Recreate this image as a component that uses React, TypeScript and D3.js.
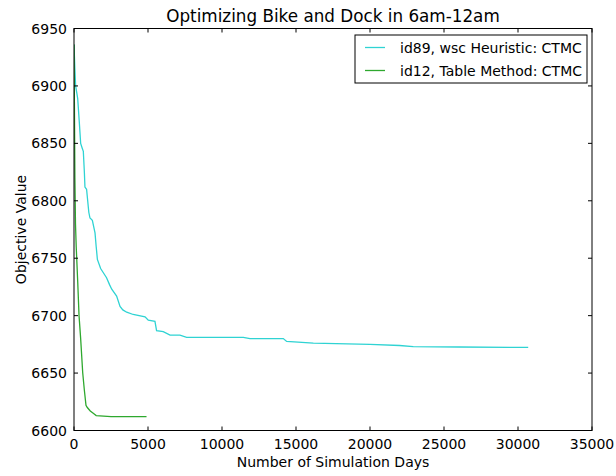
import React from 'react'
import * as d3 from 'd3'

const cyanDays = [0, 60, 110, 200, 250, 350, 450, 550, 630, 700, 740, 850, 925, 1000, 1080, 1240, 1420, 1500, 1580, 1800, 2200, 2400, 2550, 2880, 3110, 3300, 3560, 4000, 4800, 5020, 5470, 5580, 6030, 6490, 7160, 7610, 11440, 11890, 14140, 14370, 16170, 20000, 22000, 22920, 26000, 30690]
const cyanValues = [6936, 6915, 6900, 6893, 6889, 6870, 6850, 6846, 6843, 6825, 6812, 6810, 6800, 6790, 6785, 6783, 6772, 6760, 6749, 6741, 6733, 6727, 6723, 6717, 6708, 6705, 6703, 6701, 6699, 6696, 6695, 6687, 6686, 6683, 6683, 6681, 6681, 6680, 6680, 6677.5, 6676, 6675, 6674, 6673, 6672.7, 6672.3]

const greenDays = [0, 30, 60, 100, 150, 250, 340, 450, 590, 700, 810, 900, 1100, 1300, 1500, 2500, 4900]
const greenValues = [6936, 6880, 6820, 6780, 6760, 6730, 6700, 6680, 6650, 6635, 6622, 6620, 6617, 6615, 6613, 6612, 6612]

const xTicks = [0, 5000, 10000, 15000, 20000, 25000, 30000, 35000]
const yTicks = [6600, 6650, 6700, 6750, 6800, 6850, 6900, 6950]

const seriesNames = ['id89, wsc Heuristic: CTMC', 'id12, Table Method: CTMC']
const seriesColors = ['#2fd3d3', '#2ea82e']

const font = 'DejaVu Sans'

export default function App() {
  const left = 74, right = 592, top = 28.5, bottom = 430.5
  const x = d3.scaleLinear().domain([0, 35000]).range([left, right])
  const y = d3.scaleLinear().domain([6600, 6950]).range([bottom, top])

  const line = d3.line<[number, number]>()
    .x(d => x(d[0]))
    .y(d => y(d[1]))

  const series = [
    cyanDays.map((d, i) => [d, cyanValues[i]] as [number, number]),
    greenDays.map((d, i) => [d, greenValues[i]] as [number, number]),
  ]

  const tick = 4

  return (
    <svg width={616} height={476} style={{ position: 'absolute', left: 0, top: 0, background: '#fff' }}
      fontFamily={font}>
      <rect x={0} y={0} width={616} height={476} fill="#fff" />
      <defs>
        <clipPath id="plot">
          <rect x={left} y={top} width={right - left} height={bottom - top} />
        </clipPath>
      </defs>

      <g clipPath="url(#plot)">
        {series.map((s, i) => (
          <path key={i} d={line(s) ?? ''} fill="none" stroke={seriesColors[i]} strokeWidth={1.3} />
        ))}
      </g>

      {/* ticks, inward on all sides */}
      {xTicks.map(t => (
        <g key={'x' + t}>
          <line x1={x(t)} x2={x(t)} y1={bottom} y2={bottom - tick} stroke="#000" />
          <line x1={x(t)} x2={x(t)} y1={top} y2={top + tick} stroke="#000" />
          <text x={x(t)} y={bottom + 18} textAnchor="middle" fontSize={14} fill="#000">{t}</text>
        </g>
      ))}
      {yTicks.map(t => (
        <g key={'y' + t}>
          <line x1={left} x2={left + tick} y1={y(t)} y2={y(t)} stroke="#000" />
          <line x1={right} x2={right - tick} y1={y(t)} y2={y(t)} stroke="#000" />
          <text x={left - 7} y={y(t) + 5} textAnchor="end" fontSize={14} fill="#000">{t}</text>
        </g>
      ))}

      <rect x={left} y={top} width={right - left} height={bottom - top} fill="none" stroke="#000" strokeWidth={1} />

      <text x={(left + right) / 2} y={22} textAnchor="middle" fontSize={16.8} fill="#000">
        Optimizing Bike and Dock in 6am-12am
      </text>
      <text x={(left + right) / 2} y={467} textAnchor="middle" fontSize={14} fill="#000">
        Number of Simulation Days
      </text>
      <text transform={`translate(26,${(top + bottom) / 2}) rotate(-90)`} textAnchor="middle" fontSize={14} fill="#000">
        Objective Value
      </text>

      {/* legend */}
      <g transform="translate(355,35)">
        <rect x={0} y={0} width={232} height={48} fill="#fff" stroke="#000" strokeWidth={1} />
        {seriesNames.map((n, i) => (
          <g key={n} transform={`translate(0,${12.5 + i * 23})`}>
            <line x1={10} x2={30} y1={0} y2={0} stroke={seriesColors[i]} strokeWidth={1.3} />
            <text x={45} y={5} fontSize={14} fill="#000">{n}</text>
          </g>
        ))}
      </g>
    </svg>
  )
}
